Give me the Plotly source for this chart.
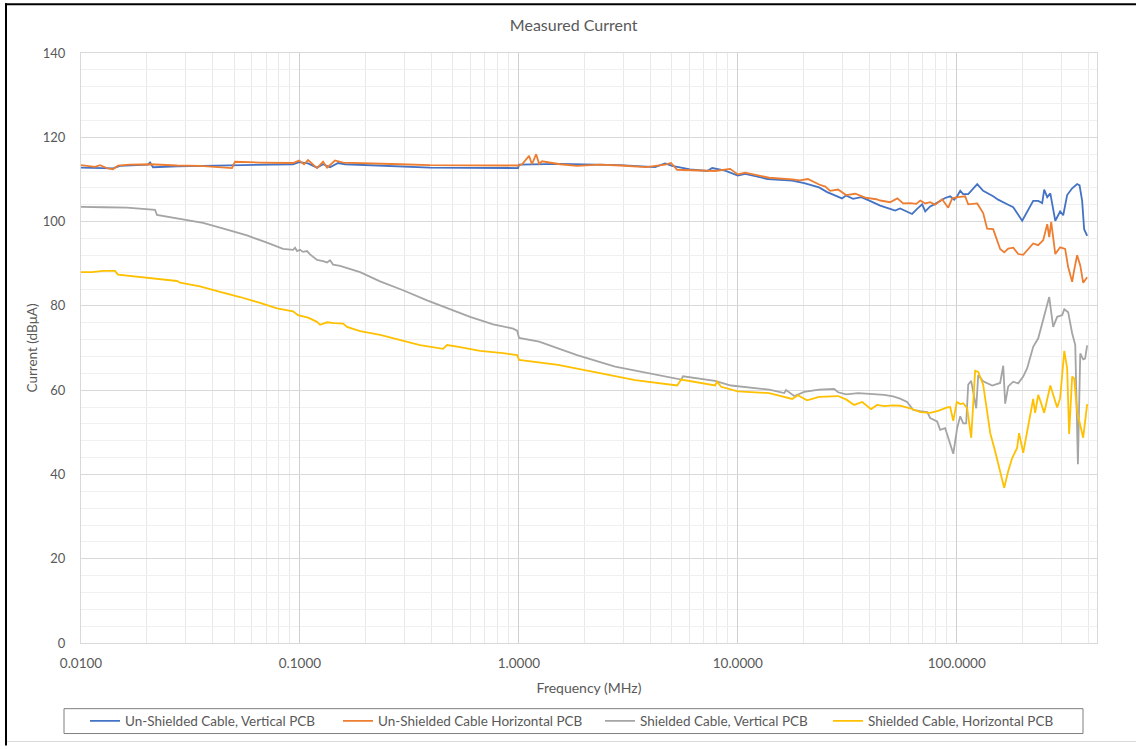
import numpy as np
import plotly.graph_objects as go

# ---- measured data: frequency in MHz, current in dBuA ----
f_unsh_vert = [0.01, 0.01221, 0.0140, 0.01507, 0.02023, 0.02067, 0.02132, 0.02745, 0.04947, 0.0657,
               0.0930, 0.0991, 0.1089, 0.1197, 0.1275, 0.1372, 0.1493, 0.1607, 0.2865, 0.3927,
               0.9915, 1.002, 1.542, 2.898, 4.188, 4.652, 5.01, 6.05, 7.24, 7.64,
               8.75, 10.0, 10.8, 13.7, 17.7, 20.1, 23.5, 25.6, 29.9, 31.2,
               33.6, 36.6, 39.4, 44.7, 49.6, 52.3, 55.1, 59.3, 62.5, 65.9,
               69.5, 71.8, 75.6, 79.7, 84.0, 88.5, 93.3, 97.3, 100.4, 103.7,
               107.0, 112.8, 124.0, 132.0, 146.6, 154.5, 169.9, 181.1, 199.0, 209.7,
               223.4, 235.5, 245.6, 250.8, 259.0, 267.4, 281.8, 296.6, 306.3, 319.3,
               336.5, 354.6, 363.8, 373.8, 381.7, 394.1]
i_unsh_vert = [112.8, 112.7, 112.6, 113.2, 113.5, 114.0, 112.9, 113.1, 113.3, 113.4,
               113.6, 114.1, 113.8, 112.8, 113.6, 112.9, 113.9, 113.6, 113.0, 112.8,
               112.7, 113.5, 113.7, 113.4, 112.9, 113.8, 113.2, 112.4, 112.0, 112.7,
               112.1, 110.9, 111.3, 110.1, 109.7, 109.1, 108.1, 107.0, 105.5, 106.2,
               105.4, 105.8, 105.1, 103.8, 103.0, 102.6, 103.1, 102.4, 101.8, 103.0,
               104.1, 102.4, 103.6, 104.2, 104.9, 105.6, 106.0, 105.2, 106.0, 107.3,
               106.5, 106.5, 108.9, 107.3, 106.0, 105.2, 104.1, 103.4, 100.2, 102.2,
               104.9, 104.9, 104.4, 107.6, 105.8, 106.7, 100.2, 102.4, 101.5, 106.3,
               107.9, 108.9, 108.6, 104.9, 98.2, 96.6]

f_unsh_horz = [0.01, 0.01158, 0.01221, 0.01328, 0.0140, 0.01476, 0.01674, 0.02067, 0.02745, 0.03497,
               0.04894, 0.05052, 0.0657, 0.0930, 0.0991, 0.1044, 0.1089, 0.1136, 0.1197, 0.1275,
               0.1330, 0.1446, 0.1574, 0.2865, 0.3927, 0.9915, 1.034, 1.113, 1.148, 1.199,
               1.237, 1.276, 1.542, 1.844, 2.349, 2.898, 3.811, 4.652, 4.955, 5.284,
               6.73, 7.87, 9.22, 10.0, 10.8, 13.9, 17.7, 19.2, 20.9, 23.5,
               25.1, 26.4, 28.7, 31.2, 34.4, 38.2, 42.9, 44.7, 49.6, 53.5,
               56.9, 61.2, 65.3, 68.1, 71.8, 75.6, 79.7, 85.7, 91.4, 95.3,
               101.4, 109.2, 112.8, 124.0, 132.0, 137.6, 146.6, 157.8, 164.7, 171.8,
               181.1, 190.8, 201.1, 211.9, 223.4, 235.5, 248.2, 259.0, 264.4, 270.0,
               281.8, 296.6, 312.6, 322.7, 336.5, 343.7, 354.6, 366.4, 377.8, 394.1]
i_unsh_horz = [113.4, 113.0, 113.4, 112.6, 112.4, 113.3, 113.5, 113.6, 113.3, 113.2,
               112.7, 114.2, 114.0, 113.9, 114.5, 113.6, 114.6, 113.8, 112.7, 114.2,
               112.8, 114.5, 114.0, 113.6, 113.4, 113.3, 113.6, 115.6, 113.6, 116.0,
               113.7, 114.3, 113.6, 113.2, 113.5, 113.3, 112.9, 113.5, 113.9, 112.3,
               112.1, 112.0, 112.5, 111.2, 111.6, 110.4, 110.0, 109.8, 110.1, 108.8,
               108.3, 107.3, 107.6, 106.3, 106.6, 105.7, 105.3, 105.0, 104.6, 105.5,
               104.3, 104.4, 104.2, 105.0, 104.3, 104.6, 104.0, 105.3, 103.3, 105.5,
               105.8, 106.0, 104.1, 104.3, 102.0, 98.3, 98.2, 93.5, 92.7, 93.6,
               93.8, 92.3, 92.1, 93.4, 94.8, 94.4, 95.6, 99.4, 96.3, 99.9,
               92.3, 93.9, 93.5, 89.2, 85.7, 88.5, 92.0, 89.6, 85.5, 86.8]

f_sh_vert = [0.01, 0.01122, 0.01274, 0.01622, 0.02067, 0.02178, 0.02223, 0.02745, 0.03608, 0.04645,
             0.05728, 0.07074, 0.0837, 0.0930, 0.0950, 0.0970, 0.1001, 0.1033, 0.1077, 0.1112,
             0.1197, 0.1275, 0.1330, 0.1372, 0.1417, 0.1525, 0.1882, 0.2322, 0.2958, 0.3808,
             0.4699, 0.5986, 0.7628, 0.9413, 0.9818, 1.002, 1.237, 1.844, 2.749, 4.146,
             5.51, 5.62, 7.87, 9.31, 13.9, 16.3, 16.6, 18.1, 20.1, 23.5,
             27.5, 28.7, 31.2, 35.5, 39.8, 46.6, 51.2, 55.1, 59.3, 63.3,
             68.1, 73.3, 75.6, 81.3, 84.0, 88.5, 91.4, 96.4, 100.4, 103.7,
             107.0, 110.4, 112.8, 116.4, 118.9, 122.7, 125.3, 132.0, 145.2, 157.8,
             163.0, 166.4, 171.8, 181.1, 190.8, 201.1, 209.7, 223.4, 235.5, 248.2,
             264.4, 275.6, 287.5, 303.2, 309.8, 322.7, 336.5, 347.7, 357.5, 366.4,
             377.8, 385.5, 394.1]
i_sh_vert = [103.5, 103.5, 103.4, 103.3, 103.0, 102.8, 101.6, 100.8, 99.7, 98.1,
             96.7, 95.0, 93.5, 93.3, 93.8, 93.0, 93.3, 92.8, 93.0, 92.2,
             90.9, 90.6, 90.3, 90.8, 89.8, 89.5, 88.0, 85.8, 83.7, 81.3,
             79.5, 77.4, 75.6, 74.6, 74.1, 72.4, 71.5, 68.3, 65.6, 63.8,
             62.5, 63.3, 62.2, 61.1, 60.1, 59.3, 60.0, 58.6, 59.6, 60.1,
             60.3, 59.5, 59.0, 59.3, 59.1, 58.9, 58.5, 58.0, 57.2, 55.3,
             55.0, 54.8, 53.4, 52.6, 50.6, 51.0, 48.7, 44.9, 51.0, 53.8,
             52.1, 52.1, 61.3, 62.2, 59.6, 55.7, 63.6, 62.1, 61.1, 61.7,
             65.8, 56.8, 60.9, 62.0, 61.6, 63.2, 65.2, 70.3, 72.3, 76.6,
             82.1, 75.0, 77.4, 77.8, 79.2, 78.5, 73.5, 70.7, 42.4, 68.7,
             67.3, 67.5, 70.6]

f_sh_horz = [0.01, 0.01122, 0.0126, 0.0143, 0.01476, 0.02002, 0.02369, 0.02745, 0.02833, 0.03497,
             0.04315, 0.05325, 0.0657, 0.0786, 0.0930, 0.0980, 0.1089, 0.1197, 0.1235, 0.1330,
             0.1432, 0.1574, 0.1641, 0.1882, 0.2322, 0.2865, 0.3537, 0.4505, 0.4699, 0.5386,
             0.6649, 0.8465, 0.9818, 1.002, 1.510, 2.253, 3.395, 5.284, 5.51, 7.87,
             8.04, 8.39, 10.0, 13.9, 17.7, 18.8, 20.7, 23.5, 28.7, 31.2,
             34.0, 37.0, 40.6, 43.3, 46.6, 51.2, 55.1, 61.2, 68.1, 75.6,
             82.2, 90.4, 93.3, 96.4, 100.0, 103.7, 107.0, 111.6, 116.4, 121.3,
             125.3, 132.0, 142.2, 149.7, 157.8, 164.7, 171.8, 179.1, 188.6, 192.6,
             201.1, 211.9, 223.4, 228.0, 235.5, 243.2, 250.8, 267.4, 275.6, 287.5,
             296.6, 309.8, 319.3, 326.0, 336.5, 343.7, 354.6, 377.8, 394.1]
i_sh_horz = [88.0, 88.0, 88.3, 88.3, 87.4, 86.7, 86.4, 85.9, 85.5, 84.6,
             83.3, 82.1, 80.7, 79.4, 78.7, 77.8, 77.2, 76.2, 75.5, 76.1,
             75.9, 75.8, 75.0, 74.0, 73.1, 71.9, 70.7, 69.8, 70.7, 70.2,
             69.3, 68.8, 68.3, 67.2, 66.0, 64.2, 62.4, 61.1, 62.5, 61.1,
             62.0, 60.8, 59.7, 59.3, 57.9, 58.8, 57.6, 58.4, 58.6, 57.8,
             56.5, 57.2, 55.5, 56.5, 56.2, 56.4, 56.3, 55.7, 54.8, 54.6,
             55.1, 55.9, 56.0, 52.7, 57.2, 56.7, 56.9, 55.7, 48.7, 64.6,
             64.3, 61.3, 49.8, 45.5, 40.8, 36.8, 40.8, 43.9, 46.3, 49.8,
             45.1, 51.9, 57.9, 54.6, 58.9, 56.8, 54.6, 61.1, 58.9, 55.9,
             58.1, 69.3, 65.2, 49.6, 63.2, 62.8, 54.9, 48.7, 56.7]

series_names = ["Un-Shielded Cable, Vertical PCB", "Un-Shielded Cable Horizontal PCB",
                "Shielded Cable, Vertical PCB", "Shielded Cable, Horizontal PCB"]
series_colors = ["#4472C4", "#ED7D31", "#A5A5A5", "#FFC000"]

x_tick_vals = [0.01, 0.1, 1, 10, 100]
x_tick_text = ["0.0100", "0.1000", "1.0000", "10.0000", "100.0000"]
x_max = 437.0

# ---- page geometry (pixels) ----
W_PAGE, H_PAGE = 1136, 749
L, R, T, B = 81, 1097, 53, 646
PW, PH = R - L, B - T


def px_x(px):
    return (px - L) / PW


def px_y(py):
    return (B - py) / PH


FONT = "Lato, 'Open Sans', sans-serif"
TXT = "#595959"

fig = go.Figure()
data = [(f_unsh_vert, i_unsh_vert), (f_unsh_horz, i_unsh_horz),
        (f_sh_vert, i_sh_vert), (f_sh_horz, i_sh_horz)]
legend_ids = ["legend", "legend2", "legend3", "legend4"]
for (f, v), name, col, lg in zip(data, series_names, series_colors, legend_ids):
    fig.add_trace(go.Scatter(x=f, y=v, mode="lines", name=name, legend=lg,
                             line=dict(color=col, width=1.8)))

minor_x = [k * 10.0 ** e for e in range(-2, 3) for k in range(2, 10) if k * 10.0 ** e <= x_max]

fig.update_xaxes(type="log", range=[np.log10(0.01), np.log10(x_max)],
                 tickvals=x_tick_vals, ticktext=x_tick_text,
                 showgrid=True, gridcolor="#d0d0d0", gridwidth=1,
                 minor=dict(tickvals=minor_x, showgrid=True, gridcolor="#e9e9e9", gridwidth=1),
                 showline=True, linecolor="#d9d9d9", mirror=True, zeroline=False,
                 ticks="", ticklabelstandoff=8,
                 tickfont=dict(family=FONT, size=13.5, color=TXT),
                 title=dict(text="Frequency (MHz)", standoff=12,
                            font=dict(family=FONT, size=14, color=TXT)))
fig.update_yaxes(range=[0, 140], dtick=20,
                 showgrid=True, gridcolor="#d9d9d9", gridwidth=1,
                 minor=dict(dtick=4, showgrid=True, gridcolor="#f0f0f0", gridwidth=1),
                 showline=True, linecolor="#d9d9d9", mirror=True, zeroline=False,
                 ticks="", ticklabelstandoff=12,
                 tickfont=dict(family=FONT, size=13, color=TXT),
                 title=dict(text="Current (dBμA)", standoff=2,
                            font=dict(family=FONT, size=13.5, color=TXT)))

# one legend per series so each entry sits at its own place inside the frame
legend_px = [85, 338, 600, 828]
legend_cfg = {}
for lg, px in zip(legend_ids, legend_px):
    legend_cfg[lg] = dict(x=px_x(px), y=px_y(724.5), xanchor="left", yanchor="middle",
                          orientation="h", bgcolor="rgba(0,0,0,0)", borderwidth=0,
                          font=dict(family=FONT, size=13.5, color=TXT))

shapes = [
    # legend frame
    dict(type="rect", xref="paper", yref="paper",
         x0=px_x(64), x1=px_x(1083), y0=px_y(712), y1=px_y(737),
         line=dict(color="#7f7f7f", width=1), fillcolor="rgba(0,0,0,0)"),
    # outer frame edges
    dict(type="line", xref="paper", yref="paper",
         x0=px_x(6), x1=px_x(6), y0=px_y(3), y1=px_y(749),
         line=dict(color="#000000", width=2)),
    dict(type="line", xref="paper", yref="paper",
         x0=px_x(5), x1=px_x(1136), y0=px_y(4), y1=px_y(4),
         line=dict(color="#000000", width=2)),
    dict(type="line", xref="paper", yref="paper",
         x0=px_x(7), x1=px_x(1136), y0=px_y(745), y1=px_y(745),
         line=dict(color="#d9d9d9", width=1)),
]

fig.update_layout(
    width=W_PAGE, height=H_PAGE,
    margin=dict(l=L, r=W_PAGE - R, t=T, b=H_PAGE - B),
    paper_bgcolor="white", plot_bgcolor="white",
    title=dict(text="Measured Current", x=0.505, xref="container", xanchor="center",
               y=1 - 25 / H_PAGE, yref="container", yanchor="middle",
               font=dict(family=FONT, size=16, color=TXT)),
    shapes=shapes,
    showlegend=True,
    **legend_cfg,
)

fig.write_html("out.html")
